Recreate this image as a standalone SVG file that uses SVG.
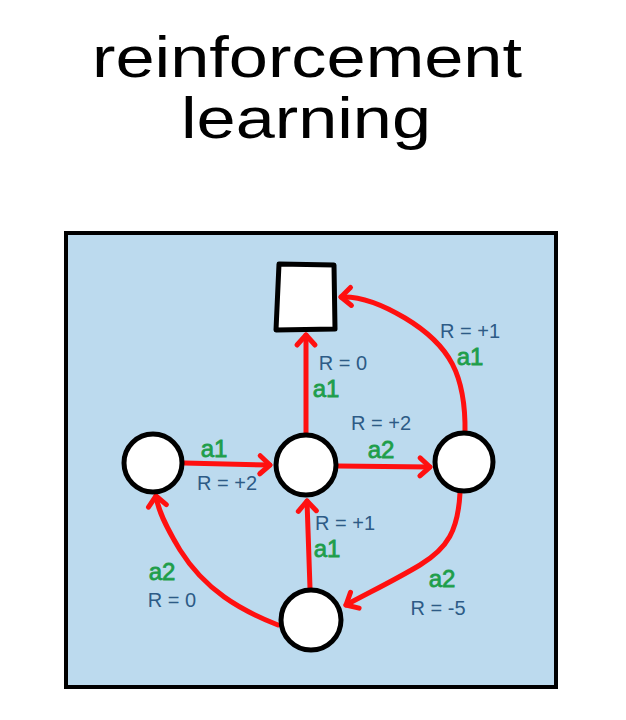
<svg xmlns="http://www.w3.org/2000/svg" width="626" height="720" viewBox="0 0 626 720">
<style>
.title{font-family:"Liberation Sans","DejaVu Sans",sans-serif;font-size:58px;fill:#000;text-anchor:middle}
.node{fill:#fff;stroke:#000;stroke-width:5;stroke-linejoin:round}
.edge{fill:none;stroke:#ff1010;stroke-width:5;stroke-linecap:round;marker-end:url(#arr)}
.act{font-family:"Liberation Sans","DejaVu Sans",sans-serif;font-size:24px;fill:#1e9e4a;stroke:#1e9e4a;stroke-width:0.8;text-anchor:middle}
.rew{font-family:"Liberation Sans","DejaVu Sans",sans-serif;font-size:20px;fill:#2d5b86;text-anchor:middle}
</style>
<defs>
<marker id="arr" markerUnits="userSpaceOnUse" markerWidth="30" markerHeight="30" viewBox="-15 -15 30 30" refX="0" refY="0" orient="auto">
<path d="M -10 -9 L 0 0 L -10 9" fill="none" stroke="#ff1010" stroke-width="5" stroke-linecap="round" stroke-linejoin="round"/>
</marker>
</defs>
<rect width="626" height="720" fill="#fff"/>
<text class="title" x="307" y="77" textLength="430" lengthAdjust="spacingAndGlyphs">reinforcement</text>
<text class="title" x="306" y="138" textLength="250" lengthAdjust="spacingAndGlyphs">learning</text>
<rect id="frame" x="66" y="233" width="490" height="454" fill="#bcdaee" stroke="#000" stroke-width="4"/>
<g id="connectors">
<path class="edge" d="M 184 463 L 270 465"/>
<path class="edge" d="M 338 466 L 430 467"/>
<path class="edge" d="M 306 433 L 306 335"/>
<path class="edge" d="M 310 588 L 307 501"/>
<path class="edge" d="M 465 433 C 466 375 450 345 405 318 C 380 303 360 296 341 297"/>
<path class="edge" d="M 460 493 C 458 530 448 548 420 565 C 395 580 370 592 346 605"/>
<path class="edge" d="M 278 625 C 240 610 205 590 180 550 C 165 525 158 510 156 496"/>
</g>
<g id="terminal"><path class="node" d="M 279 264 L 334 265 L 335 329 L 276 330 Z"/></g>
<g id="s-left"><circle class="node" cx="153" cy="463" r="29"/></g>
<g id="s-center"><circle class="node" cx="306" cy="465" r="30"/></g>
<g id="s-right"><circle class="node" cx="464" cy="462" r="29"/></g>
<g id="s-bottom"><circle class="node" cx="311" cy="620" r="30"/></g>
<g id="labels">
<text class="rew" x="470" y="338">R = +1</text>
<text class="act" x="470" y="365">a1</text>
<text class="rew" x="343" y="370">R = 0</text>
<text class="act" x="326" y="397">a1</text>
<text class="rew" x="381" y="430">R = +2</text>
<text class="act" x="381" y="458">a2</text>
<text class="act" x="214" y="457">a1</text>
<text class="rew" x="227" y="490">R = +2</text>
<text class="rew" x="345" y="530">R = +1</text>
<text class="act" x="327" y="557">a1</text>
<text class="act" x="162" y="580">a2</text>
<text class="rew" x="172" y="607">R = 0</text>
<text class="act" x="442" y="587">a2</text>
<text class="rew" x="438" y="615">R = -5</text>
</g>
</svg>
